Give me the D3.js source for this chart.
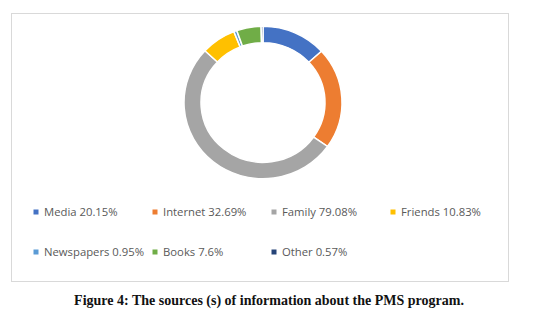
<!DOCTYPE html>
<html>
<head>
<meta charset="utf-8">
<script src="https://cdn.jsdelivr.net/npm/d3@7"></script>
<style>
  body { margin: 0; background: #fff; }
</style>
</head>
<body>
<div id="chart"></div>
<script>
/* DATA */
const sources = ["Media", "Internet", "Family", "Friends", "Newspapers", "Books", "Other"];
const percents = [20.15, 32.69, 79.08, 10.83, 0.95, 7.6, 0.57];
const labels = ["Media 20.15%", "Internet 32.69%", "Family 79.08%", "Friends 10.83%",
  "Newspapers 0.95%", "Books 7.6%", "Other 0.57%"];
const colors = ["#4472c4", "#ed7d31", "#a5a5a5", "#ffc000", "#5b9bd5", "#70ad47", "#264478"];
const caption = "Figure 4: The sources (s) of information about the PMS program.";

/* LAYOUT */
const width = 533, height = 317;
const cx = 263, cy = 102.5, outerR = 79, innerR = 62;

const svg = d3.select("#chart").append("svg")
  .attr("width", width)
  .attr("height", height);

// chart frame
svg.append("rect")
  .attr("x", 11.5).attr("y", 13.5)
  .attr("width", 497).attr("height", 268)
  .attr("fill", "#fff")
  .attr("stroke", "#d9d9d9")
  .attr("stroke-width", 1);

const color = d3.scaleOrdinal().domain(sources).range(colors);

const pie = d3.pie().sort(null).value((d, i) => percents[i]);
const arc = d3.arc().innerRadius(innerR).outerRadius(outerR);

const donut = svg.append("g")
  .attr("transform", `translate(${cx},${cy}) scale(1,0.965)`);

donut.selectAll("path")
  .data(pie(sources))
  .join("path")
  .attr("d", arc)
  .attr("fill", d => color(d.data))
  .attr("stroke", "#fff")
  .attr("stroke-width", 1.5);

// legend
const legendX = d3.scalePoint().domain([0, 1, 2, 3]).range([36, 393]);
const rowY = [212, 252];
const legend = svg.append("g")
  .selectAll("g")
  .data(sources)
  .join("g")
  .attr("transform", (d, i) => `translate(${legendX(i < 4 ? i : i - 4)},${rowY[i < 4 ? 0 : 1]})`);

legend.append("rect")
  .attr("x", -2.5).attr("y", -2.5)
  .attr("width", 5).attr("height", 5)
  .attr("fill", d => color(d));

legend.append("text")
  .attr("x", 8)
  .attr("y", 4)
  .attr("font-family", "Open Sans, sans-serif")
  .attr("font-size", "11.3px")
  .attr("fill", "#595959")
  .text((d, i) => labels[i]);

// caption
svg.append("text")
  .attr("x", 269)
  .attr("y", 305)
  .attr("text-anchor", "middle")
  .attr("font-family", "Liberation Serif, serif")
  .attr("font-weight", "bold")
  .attr("font-size", "14px")
  .attr("fill", "#111")
  .text(caption);
</script>
</body>
</html>
